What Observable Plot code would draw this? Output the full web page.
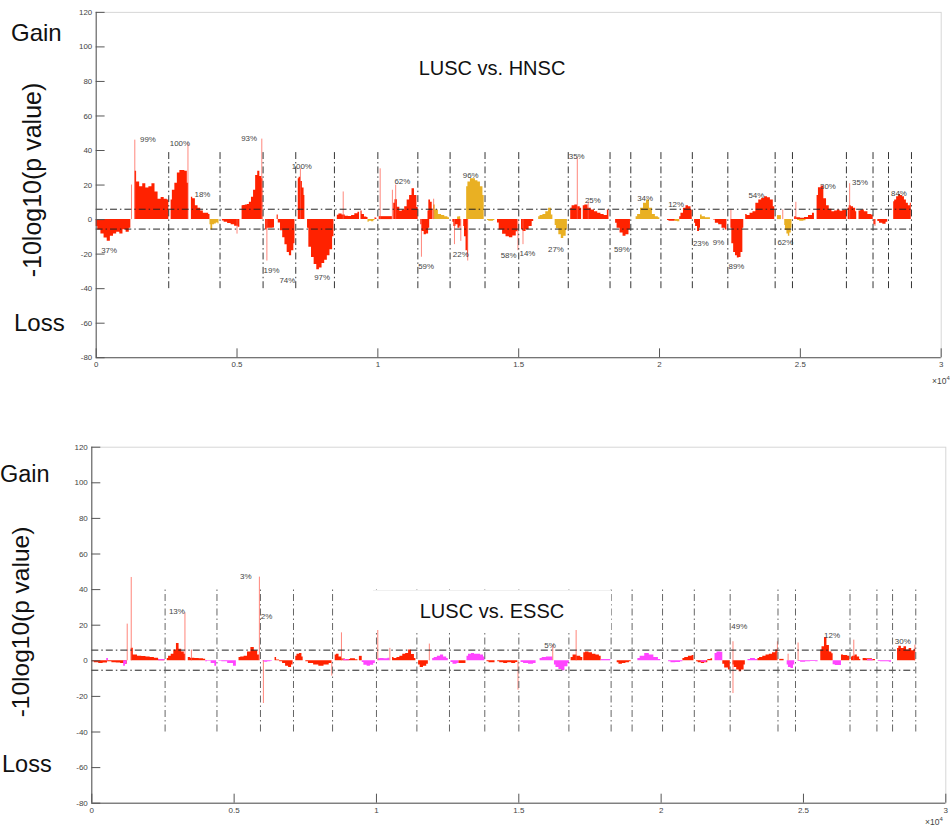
<!DOCTYPE html>
<html>
<head>
<meta charset="utf-8">
<script src="https://cdn.jsdelivr.net/npm/d3@7"></script>
<script src="https://cdn.jsdelivr.net/npm/@observablehq/plot@0.6"></script>
<style>
  html, body { margin: 0; padding: 0; background: #fff; }
  body { width: 950px; height: 825px; overflow: hidden; position: relative;
         font-family: "Liberation Sans", Arial, Helvetica, sans-serif; color: #111; }
  .abs { position: absolute; white-space: nowrap; line-height: 1; }
  .ylab { transform: translate(-50%, -50%) rotate(-90deg); }
  .title { display: flex; align-items: center; justify-content: center; background: #fff; font-size: 20px; }
  .x10 { font-size: 8.5px; color: #444; }
  .x10 sup { font-size: 6px; }
</style>
</head>
<body>
<div id="topPlot" class="abs" style="left:0;top:0"></div>
<div id="botPlot" class="abs" style="left:0;top:400px"></div>

<div class="abs title" style="left:373px;top:48px;width:238px;height:39px;background:transparent">LUSC vs. HNSC</div>
<div class="abs title" style="left:373px;top:590px;width:238px;height:39px;border-top:1px solid #f0f0f0">LUSC vs. ESSC</div>

<div class="abs" style="left:11px;top:21px;font-size:24px">Gain</div>
<div class="abs" style="left:14px;top:311px;font-size:24px">Loss</div>
<div class="abs ylab" style="left:32px;top:180px;font-size:25px">-10log10(p value)</div>

<div class="abs" style="left:0px;top:463px;font-size:23.5px">Gain</div>
<div class="abs" style="left:2px;top:753px;font-size:23.5px">Loss</div>
<div class="abs ylab" style="left:21px;top:622px;font-size:24.5px">-10log10(p value)</div>

<div class="abs x10" style="left:932px;top:375px">×10<sup>4</sup></div>
<div class="abs x10" style="left:925px;top:816px">×10<sup>4</sup></div>

<script>
// ---------- shared axis data ----------
const xTicks = [0, 0.5, 1, 1.5, 2, 2.5, 3];
const yTicks = [-80, -60, -40, -20, 0, 20, 40, 60, 80, 100, 120];
// chromosome boundaries (x10^4)
const chromEnds = [0.2575, 0.4397, 0.5925, 0.7085, 0.8458, 1.0, 1.142, 1.2565, 1.3805, 1.5002, 1.676,
                   1.8243, 1.898, 2.005, 2.1165, 2.2425, 2.4105, 2.472, 2.6635, 2.758, 2.813, 2.8945];
const palette = { R: "#ff2200", O: "#e9b023", M: "#ff45ff" };

// ---------- LUSC vs. HNSC ----------
const hnscThresholds = [6, -5.5];
// [start, end, colour key, values read along the segment]
const hnscSegments = [
  [0.000, 0.123, "R", [-4, -6, -8.4, -10.7, -12.6, -9.7, -8.4, -7.3, -8.4, -5.9, -7.3, -5]],
  [0.138, 0.2578, "R", [28, 21.8, 19, 20.8, 18.3, 19, 20.8, 16, 11.8, 12.8, 11.8, 11.3]],
  [0.266, 0.328, "R", [11.3, 17, 21, 27, 28.5, 28.5, 28, 21]],
  [0.338, 0.404, "R", [13, 12, 8, 6.5, 5, 3.6, 3.6, 3]],
  [0.404, 0.436, "O", [-3, -6, -3, -2.5, -2, -2.5]],
  [0.448, 0.510, "R", [-0.8, -1.5, -2.3, -3, -3.8, -4.5]],
  [0.518, 0.592, "R", [8, 8.2, 8.4, 8.8, 10, 13, 17, 25.6, 28, 25, 23.7]],
  [0.6014, 0.633, "R", [-6, -5, -5, -4.8]],
  [0.6424, 0.7057, "R", [2.7, -2, -6.5, -10.5, -14.5, -19, -21, -18, -14]],
  [0.7174, 0.7409, "R", [23.7, 24.5, 22, 18.3, 14]],
  [0.7503, 0.8441, "R", [-5, -16, -22, -26, -29, -28, -25.5, -23.5, -21, -17.5, -10]],
  [0.856, 0.935, "R", [2.5, 3.2, 2.6, 2, 1.8, 2.3, 3.4, 4.2]],
  [0.94, 0.965, "R", [5, 3, 1.5, 1.2]],
  [0.965, 0.99, "O", [-1.5, -1, -1.2, -0.5]],
  [0.99, 0.9965, "R", [1, 0.8]],
  [1.0047, 1.0516, "R", [1.7, 1.7, 1.7, 1.7]],
  [1.0563, 1.1430, "R", [9.4, 11.5, 7.2, 4.8, 5.5, 7.5, 11.3, 14, 17.8, 14, 7]],
  [1.1524, 1.1841, "R", [-3, -6.9, -8.8, -8.4, -5]],
  [1.178, 1.196, "R", [5, 11.3, 10, 6]],
  [1.198, 1.2544, "O", [8.4, 5.5, 3, 2.3, 1.7, 1.1]],
  [1.2661, 1.2954, "R", [-1.5, -4, -3, -5, -3.8]],
  [1.283, 1.294, "O", [1.5, 1.7]],
  [1.3048, 1.3212, "R", [-4, -10, -18, -22]],
  [1.3153, 1.3775, "O", [19, 21.8, 23.7, 23.7, 22.5, 21.8, 19, 14]],
  [1.3895, 1.4153, "O", [-0.5, -1, -1, -0.5]],
  [1.4247, 1.4974, "R", [-2, -6, -8.5, -10, -10.5, -9.5, -7]],
  [1.510, 1.5533, "R", [-5.9, -6.9, -5.9, -4, -1.1]],
  [1.5709, 1.6213, "O", [1.7, 2.3, 3, 4.6, 6.5, 2.7]],
  [1.6295, 1.6729, "O", [-3.4, -5.3, -8.8, -11, -9.7, -6]],
  [1.6847, 1.7234, "R", [6.5, 8, 8.4, 7.4, 6.5]],
  [1.7292, 1.8205, "R", [8, 8.4, 6.5, 5.5, 4.6, 3.6, 3, 2.3, 5.5]],
  [1.8441, 1.8968, "R", [-2.1, -5, -7.8, -9.7, -8.8, -6]],
  [1.9169, 2.001, "O", [1.7, 3, 6.5, 9.4, 11.3, 6.5, 3, 1.7, 1.1]],
  [2.0283, 2.0693, "R", [-0.5, -1, -1, -0.8, -1]],
  [2.055, 2.072, "O", [-1, -1.2]],
  [2.0716, 2.1162, "R", [1.7, 3.6, 6.5, 8, 7.4, 5.5]],
  [2.1244, 2.1455, "R", [-2.1, -4, -6.9, -5]],
  [2.1455, 2.1807, "O", [2.7, 1.7, 1.1, 1.1]],
  [2.1924, 2.2393, "R", [-0.2, -2.1, -3, -5, -6]],
  [2.2534, 2.2991, "R", [-5, -14, -19, -21, -22.2, -22, -19, -5]],
  [2.3059, 2.4091, "R", [3, 2.3, 3.6, 4.6, 9.4, 11.3, 12.2, 13.2, 12.6, 11.3, 7.4]],
  [2.4187, 2.4327, "O", [2.3, 2.3]],
  [2.4445, 2.4703, "O", [-3.4, -6.3, -8.4, -9.7, -7.8, -5]],
  [2.4797, 2.5500, "R", [1.7, 1, 0.8, 1.2, 2.3, 3.6]],
  [2.49, 2.52, "O", [-0.5, -1, -0.6]],
  [2.5594, 2.6649, "R", [14, 18.5, 19.5, 12, 8, 6, 4.6, 5, 5.5, 4.8, 5.2, 5.5]],
  [2.6696, 2.7001, "R", [6.5, 8, 7.4, 6.5, 4.6]],
  [2.7083, 2.7587, "R", [5, 5.5, 4.6, 3, 2.7]],
  [2.761, 2.768, "R", [-3, -3]],
  [2.775, 2.8103, "R", [-1.1, -2.1, -2.7, -1.5]],
  [2.8314, 2.8938, "R", [10.3, 11.3, 13.2, 14.5, 14, 13.2, 11.3, 9.4, 8, 9.4]]
];
// single-probe spikes [x, value]
const hnscSpikes = [
  [0.1253, 20], [0.1371, 46], [0.3258, 43.7], [0.500, -8.4], [0.588, 46.6], [0.606, -24],
  [0.725, 29.4], [0.877, 16], [1.0082, 29.4], [1.0516, 17], [1.0633, 20], [1.1547, -21.8],
  [1.198, 11.8], [1.272, -14.5], [1.2945, -12.6], [1.319, -24], [1.4974, -18], [1.5153, -14.5],
  [1.7081, 36], [1.7468, 10.3], [2.2534, 5.5], [2.4375, 5.5], [2.484, 10], [2.675, 20.8], [2.765, -4]
];
const hnscLabels = [
  [0.1558, 46.6, "99%"], [0.2613, 43.8, "100%"], [0.3493, 14.6, "18%"], [0.5146, 47.2, "93%"],
  [0.694, 30.6, "100%"], [0.0176, -18.1, "37%"], [0.5944, -29.6, "19%"], [0.6507, -35.3, "74%"],
  [0.7738, -33.6, "97%"], [1.0587, 22, "62%"], [1.1431, -27.3, "59%"], [1.3014, 25.6, "96%"],
  [1.2663, -20.2, "22%"], [1.4362, -20.8, "58%"], [1.503, -19.7, "14%"], [1.604, -17.5, "27%"],
  [1.678, 36.7, "35%"], [1.735, 10.9, "25%"], [1.838, -17.4, "59%"], [1.9205, 12.3, "34%"],
  [2.0306, 8.8, "12%"], [2.1185, -14.1, "23%"], [2.189, -13, "9%"], [2.245, -27.4, "89%"],
  [2.3155, 14.2, "54%"], [2.4186, -13.5, "62%"], [2.5698, 19, "30%"], [2.6838, 21.3, "35%"],
  [2.822, 15.1, "84%"]
];

// ---------- LUSC vs. ESSC ----------
const esscThresholds = [6, -5.3];
const esscSegments = [
  [0.0013, 0.1244, "R", [-0.6, -1.1, -1.5, -1.3, -0.6, -1.1, -1.3, -1.5, -2]],
  [0.0525, 0.0585, "M", [1.3, 1.3]],
  [0.112, 0.124, "M", [-3, -2]],
  [0.1385, 0.2569, "R", [7, 3.2, 2.6, 2.4, 2.2, 1.8, 1.5, 0.8, 0.7]],
  [0.235, 0.2569, "M", [0.7, 0.7]],
  [0.2651, 0.3296, "R", [1.3, 2.6, 3.7, 6, 9.7, 6.5, 5, 3.7]],
  [0.3389, 0.3999, "R", [1.9, 1.5, 1.3, 1.1, 0.9]],
  [0.3999, 0.4386, "M", [-0.6, -0.2, -1.5, -3]],
  [0.4467, 0.5078, "M", [-0.2, -0.6, -1.5, -3]],
  [0.5172, 0.5887, "R", [1.9, 2.2, 2.6, 5, 7.5, 5.6, 3.2]],
  [0.6016, 0.6344, "M", [-0.5, -0.8, -0.6, -0.3]],
  [0.6438, 0.7071, "R", [1.9, 0.4, -0.6, -1.5, -3, -3.7, -2.4]],
  [0.7165, 0.7425, "R", [2.6, 3.7, 4.1, 2.2]],
  [0.7519, 0.8431, "R", [-0.6, -1.5, -2.4, -3, -2.4, -1.5]],
  [0.855, 0.882, "R", [3.2, 3.7, 2.2, 1.2]],
  [0.882, 0.935, "R", [1, 0.8, 1.2, 0.6]],
  [0.885, 0.905, "M", [0.8, 0.6]],
  [0.94, 0.95, "R", [2.5, 2.5]],
  [0.95, 0.996, "M", [-1, -2.5, -3, -2.5, -1.5]],
  [1.0061, 1.0471, "M", [1.2, 1.3, 1.2, 1.4]],
  [1.0565, 1.1385, "R", [1.9, 1.3, 1.9, 2.6, 3.7, 4.1, 6, 3.5, 1.3]],
  [1.148, 1.1822, "R", [-2.4, -3.7, -3, -1.9]],
  [1.1974, 1.2523, "M", [1.3, 1.9, 2.6, 3.2, 2.2, 1.3]],
  [1.2617, 1.29, "M", [-1, -2, -1.5]],
  [1.29, 1.3144, "R", [-1.5, -1.5]],
  [1.318, 1.3813, "M", [2.6, 3.7, 4.1, 3.7, 3.7, 3.2, 2.2]],
  [1.3883, 1.4165, "R", [-0.6, -1.1, -1.1]],
  [1.4259, 1.4962, "R", [-0.6, -1.1, -1.5, -1.1, -1.5, -1]],
  [1.5079, 1.5607, "M", [-1, -1.5, -1.9, -1.5]],
  [1.5748, 1.6193, "M", [1.3, 1.9, 2.2, 2.2]],
  [1.6252, 1.6778, "M", [-2.4, -3.7, -4.9, -5.6, -3.4, -1.5]],
  [1.6838, 1.7248, "R", [1.9, 3.2, 2.6, 1.9]],
  [1.7283, 1.7893, "R", [4.5, 5, 4.5, 3.7, 3.2, 2.6]],
  [1.7893, 1.8233, "M", [0.7, 0.7]],
  [1.8456, 1.8948, "R", [-1.1, -1.9, -1.5, -1.1, -0.6]],
  [1.9183, 1.9985, "M", [1.3, 2.6, 4.1, 3.2, 1.9, 0.7]],
  [2.0261, 2.0765, "M", [-0.6, -1.1, -0.9, -0.6]],
  [2.0765, 2.1152, "R", [1.3, 1.9, 2.6, 3]],
  [2.1245, 2.1808, "R", [-0.6, -1.1, -1.5, -1.1, 0.8, 1.1]],
  [2.14, 2.16, "M", [-0.8, -0.8]],
  [2.1894, 2.2166, "M", [4.1, 5, 4.8]],
  [2.2166, 2.243, "R", [-2, -4, -5.2]],
  [2.2524, 2.2958, "R", [-2.4, -3.7, -5.2, -6.2, -5.2, -2.4]],
  [2.3052, 2.34, "M", [0.7, 1.3, 0.7]],
  [2.34, 2.4084, "R", [1.3, 1.9, 2.6, 3.2, 3.7, 4.5, 6]],
  [2.4166, 2.432, "R", [0.8, 0.8]],
  [2.4428, 2.4693, "M", [-2.4, -3.7, -4.3, -2.4]],
  [2.4811, 2.5515, "M", [-0.4, -0.8, -0.6, -0.4, -0.6]],
  [2.5608, 2.6042, "R", [6, 7.9, 13.1, 8.6, 5, 4]],
  [2.6042, 2.6335, "M", [-2.2, -2.6, -2.6]],
  [2.6335, 2.6628, "R", [3.2, 3, 2.6]],
  [2.6686, 2.7014, "R", [2.2, 2.6, 3.2, 2.2, 0.8]],
  [2.7096, 2.753, "R", [1.3, 1.1, 0.8]],
  [2.725, 2.745, "M", [0.7, 0.7]],
  [2.7625, 2.8094, "M", [-0.4, -0.6, -0.6, -0.8]],
  [2.8305, 2.8937, "R", [6.9, 8.2, 6.9, 7.9, 6, 6.9, 5.6, 6.5]]
];
const esscSpikes = [
  [0.1244, 20.6], [0.1385, 46.8], [0.3272, 27], [0.350, 6], [0.5887, 47], [0.6028, -24],
  [0.8431, -8.6], [0.877, 15.7], [1.0046, 18], [1.0471, 7], [1.1857, 9.4], [1.4973, -16.5],
  [1.6193, 8.8], [1.7014, 18], [2.2524, 10.7], [2.2524, -18.4], [2.4084, 10.7], [2.446, 3.7],
  [2.4811, 10], [2.6768, 11.6], [2.8915, 8.8]
];
const esscLabels = [
  [0.2708, 27.6, "13%"], [0.5206, 47.6, "3%"], [0.5934, 25, "2%"], [1.5898, 8.8, "5%"],
  [2.2466, 19.1, "49%"], [2.5725, 14.3, "12%"], [2.821, 10.9, "30%"]
];

// ---------- helpers ----------
function segmentPoints(segments) {
  const pts = [];
  segments.forEach(([x0, x1, key, vals], s) => {
    const n = vals.length;
    vals.forEach((v, i) => pts.push({ seg: s, x: n > 1 ? x0 + (x1 - x0) * i / (n - 1) : x0, y: v, fill: palette[key] }));
  });
  return pts;
}
const dashDot = "7,3,1.5,3";

function panel({ segments, spikes, labels, thresholds, width, marginLeft, marginRight, marginTop, marginBottom, height, vStroke }) {
  const pts = segmentPoints(segments);
  return Plot.plot({
    width, height, marginLeft, marginRight, marginTop, marginBottom,
    x: { domain: [0, 3] },
    y: { domain: [-80, 120] },
    style: { fontFamily: '"Liberation Sans", Arial, sans-serif', color: "#444", background: "transparent", overflow: "visible" },
    marks: [
      Plot.frame({ stroke: "#d6d6d6" }),
      Plot.areaY(pts, { x: "x", y1: 0, y2: "y", z: "seg", fill: "fill", curve: "step" }),
      Plot.ruleX(spikes, { x: d => d[0], y1: 0, y2: d => d[1], stroke: "#ff5c4d", strokeOpacity: 0.75, strokeWidth: 1 }),
      Plot.ruleY(thresholds, { x1: 0, x2: chromEnds[chromEnds.length - 1], stroke: "#222", strokeWidth: 1, strokeDasharray: dashDot }),
      Plot.ruleX(chromEnds, { y1: -40, y2: 40, stroke: vStroke, strokeWidth: 1, strokeDasharray: dashDot }),
      Plot.text(labels, { x: d => d[0], y: d => d[1], text: d => d[2], textAnchor: "start", fontSize: 8, fill: "#444" }),
      Plot.ruleX([0], { stroke: "#555" }),
      Plot.ruleY([-80], { stroke: "#555" }),
      Plot.axisY({ ticks: yTicks, tickSize: -9, tickPadding: 13, tickFormat: d => String(d), fontSize: 8, label: null, stroke: "#555" }),
      Plot.axisX({ ticks: xTicks, tickSize: -9, tickPadding: 13, tickFormat: d => String(d), fontSize: 8, label: null, stroke: "#555" })
    ]
  });
}

document.getElementById("topPlot").append(panel({
  segments: hnscSegments, spikes: hnscSpikes, labels: hnscLabels, thresholds: hnscThresholds,
  width: 960, height: 400, marginLeft: 96.7, marginRight: 9.4, marginTop: 12, marginBottom: 39, vStroke: "#333"
}));
document.getElementById("botPlot").append(panel({
  segments: esscSegments, spikes: esscSpikes, labels: esscLabels, thresholds: esscThresholds,
  width: 950, height: 425, marginLeft: 91.3, marginRight: 4.7, marginTop: 46.7, marginBottom: 22.3, vStroke: "#666"
}));
</script>
</body>
</html>
